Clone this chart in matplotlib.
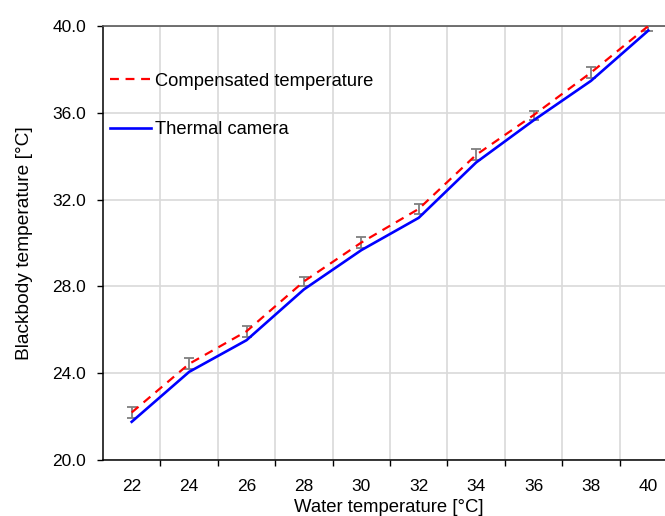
"""Blackbody vs water temperature: compensated reading and thermal camera."""

import matplotlib.pyplot as plt
import numpy as np
from matplotlib.ticker import FixedLocator, FormatStrFormatter

plt.rcParams["font.family"] = ["Liberation Sans", "DejaVu Sans"]

# ── Data ────────────────────────────────────────────────────────────
water_temp = ["22", "24", "26", "28", "30", "32", "34", "36", "38", "40"]
compensated = [22.19, 24.43, 25.93, 28.23, 30.02, 31.57, 34.06, 35.89, 37.85, 40.0]
compensated_err = [0.25, 0.25, 0.25, 0.2, 0.25, 0.25, 0.25, 0.2, 0.25, 0.25]
thermal_camera = [21.76, 24.06, 25.52, 27.86, 29.67, 31.16, 33.71, 35.65, 37.47, 39.79]

W, H = 665, 516
fig = plt.figure(figsize=(W / 100, H / 100), dpi=100)
# plot area runs past the right edge, like the cropped original
ax = fig.add_axes([103 / W, 1 - 460 / H, (677 - 103) / W, (460 - 26) / H])

x = np.arange(len(water_temp))

ax.errorbar(x, compensated, yerr=compensated_err, fmt="none", ecolor="#7f7f7f",
            elinewidth=1.3, capsize=3.5, capthick=1.3, zorder=3)
ax.plot(x, compensated, color="#ff0000", linestyle=(0, (4, 3)), linewidth=1.6,
        label="Compensated temperature", zorder=4)
ax.plot(x, thermal_camera, color="#0000ff", linewidth=1.9,
        label="Thermal camera", zorder=4)

# ── Axes ────────────────────────────────────────────────────────────
ax.set_xlim(-0.5, len(water_temp) - 0.5)
ax.set_ylim(20, 40)

ax.set_xticks(x)
ax.set_xticklabels(water_temp)
ax.xaxis.set_minor_locator(FixedLocator(np.arange(0.5, len(water_temp), 1.0)))
ax.tick_params(axis="x", which="major", length=0, pad=14, labelsize=12.5)
ax.tick_params(axis="x", which="minor", length=4, width=1, direction="out")

ax.set_yticks(np.arange(20, 41, 4))
ax.yaxis.set_major_formatter(FormatStrFormatter("%.1f"))
ax.tick_params(axis="y", length=4, width=1, direction="out", pad=8, labelsize=12.5)

ax.grid(True, which="minor", axis="x", color="#d9d9d9", linewidth=1.2)
ax.grid(True, which="major", axis="y", color="#d9d9d9", linewidth=1.2)
ax.set_axisbelow(True)

for side in ("left", "bottom"):
    ax.spines[side].set_color("black")
    ax.spines[side].set_linewidth(1.1)
ax.spines["top"].set_color("#595959")
ax.spines["top"].set_linewidth(1.2)
ax.spines["right"].set_visible(False)

ax.set_xlabel("Water temperature [°C]", fontsize=13.3)
ax.set_ylabel("Blackbody temperature [°C]", fontsize=13.8)
# label positions as in the original (x label centred on the visible image)
ax.xaxis.set_label_coords((389 - 103) / (677 - 103), -0.091)
ax.yaxis.set_label_coords((33 - 103) / (677 - 103), 0.5)

ax.legend(loc="upper left", bbox_to_anchor=(0.0, 0.909), frameon=False,
          fontsize=13.2, handlelength=2.2, handletextpad=0.22, labelspacing=1.72,
          borderaxespad=0.2, borderpad=0.2)

fig.savefig("out.png", dpi=100)
